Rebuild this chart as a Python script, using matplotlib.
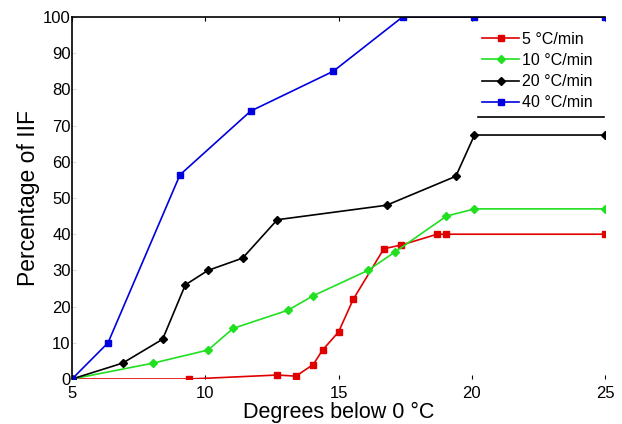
import matplotlib
matplotlib.use("Agg")
import matplotlib.pyplot as plt
from matplotlib.lines import Line2D

plt.rcParams['font.family'] = ['Liberation Sans', 'DejaVu Sans']

# Data (degrees below 0 C, percentage of IIF)
x5 = [5, 9.4, 12.7, 13.4, 14.05, 14.4, 15.0, 15.55, 16.7, 17.35, 18.7, 19.05, 25]
y5 = [0, 0, 1.1, 0.8, 4, 8, 13, 22, 36, 37, 40, 40, 40]

x10 = [5, 8.05, 10.1, 11.05, 13.1, 14.05, 16.1, 17.1, 19.05, 20.1, 25]
y10 = [0, 4.4, 8, 14, 19, 23, 30, 35, 45, 47, 47]

x20 = [5, 6.9, 8.4, 9.25, 10.1, 11.4, 12.7, 16.8, 19.4, 20.1, 25]
y20 = [0, 4.4, 11, 26, 30, 33.4, 44, 48, 56, 67.4, 67.4]

x40 = [5, 6.35, 9.05, 11.7, 14.8, 17.4, 20.1, 25]
y40 = [0, 10, 56.4, 74, 85, 100, 100, 100]

labels = ['5 \u00b0C/min', '10 \u00b0C/min', '20 \u00b0C/min', '40 \u00b0C/min']
xticks = [5, 10, 15, 20, 25]
yticks = [0, 10, 20, 30, 40, 50, 60, 70, 80, 90, 100]

fig = plt.figure(figsize=(6.22, 4.24), dpi=100)
ax = fig.add_axes([0.1158, 0.1061, 0.857, 0.8538])

ax.plot(x5, y5, color='#e00000', marker='s', ms=4.5, lw=1.2, label=labels[0])
ax.plot(x10, y10, color='#20e020', marker='D', ms=4.5, lw=1.2, label=labels[1])
ax.plot(x20, y20, color='black', marker='D', ms=4.5, lw=1.2, label=labels[2])
ax.plot(x40, y40, color='#0000e0', marker='s', ms=4.5, lw=1.2, label=labels[3])

ax.set_xlim(5, 25)
ax.set_ylim(0, 100)
ax.set_xticks(xticks)
ax.set_yticks(yticks)
ax.tick_params(axis='both', labelsize=12, direction='in', length=3)
ax.tick_params(axis='x', top=True, pad=5)
ax.tick_params(axis='y', color='#dddddd', pad=1)

ax.spines['right'].set_visible(False)
ax.spines['bottom'].set_visible(False)
ax.spines['left'].set_linewidth(1.2)
ax.spines['top'].set_linewidth(1.2)

ax.set_xlabel('Degrees below 0 \u00b0C', fontsize=15.5, labelpad=1)
ax.set_ylabel('Percentage of IIF', fontsize=16.5, labelpad=2)

leg = ax.legend(loc='upper right', bbox_to_anchor=(0.995, 0.985), frameon=False,
                fontsize=11.5, handlelength=2.3, handletextpad=0.2,
                labelspacing=0.38, borderaxespad=0.2)
ax.add_line(Line2D([0.761, 0.998], [0.724, 0.724], transform=ax.transAxes,
                   color='black', lw=1.2))

fig.savefig('out.png', dpi=100)
